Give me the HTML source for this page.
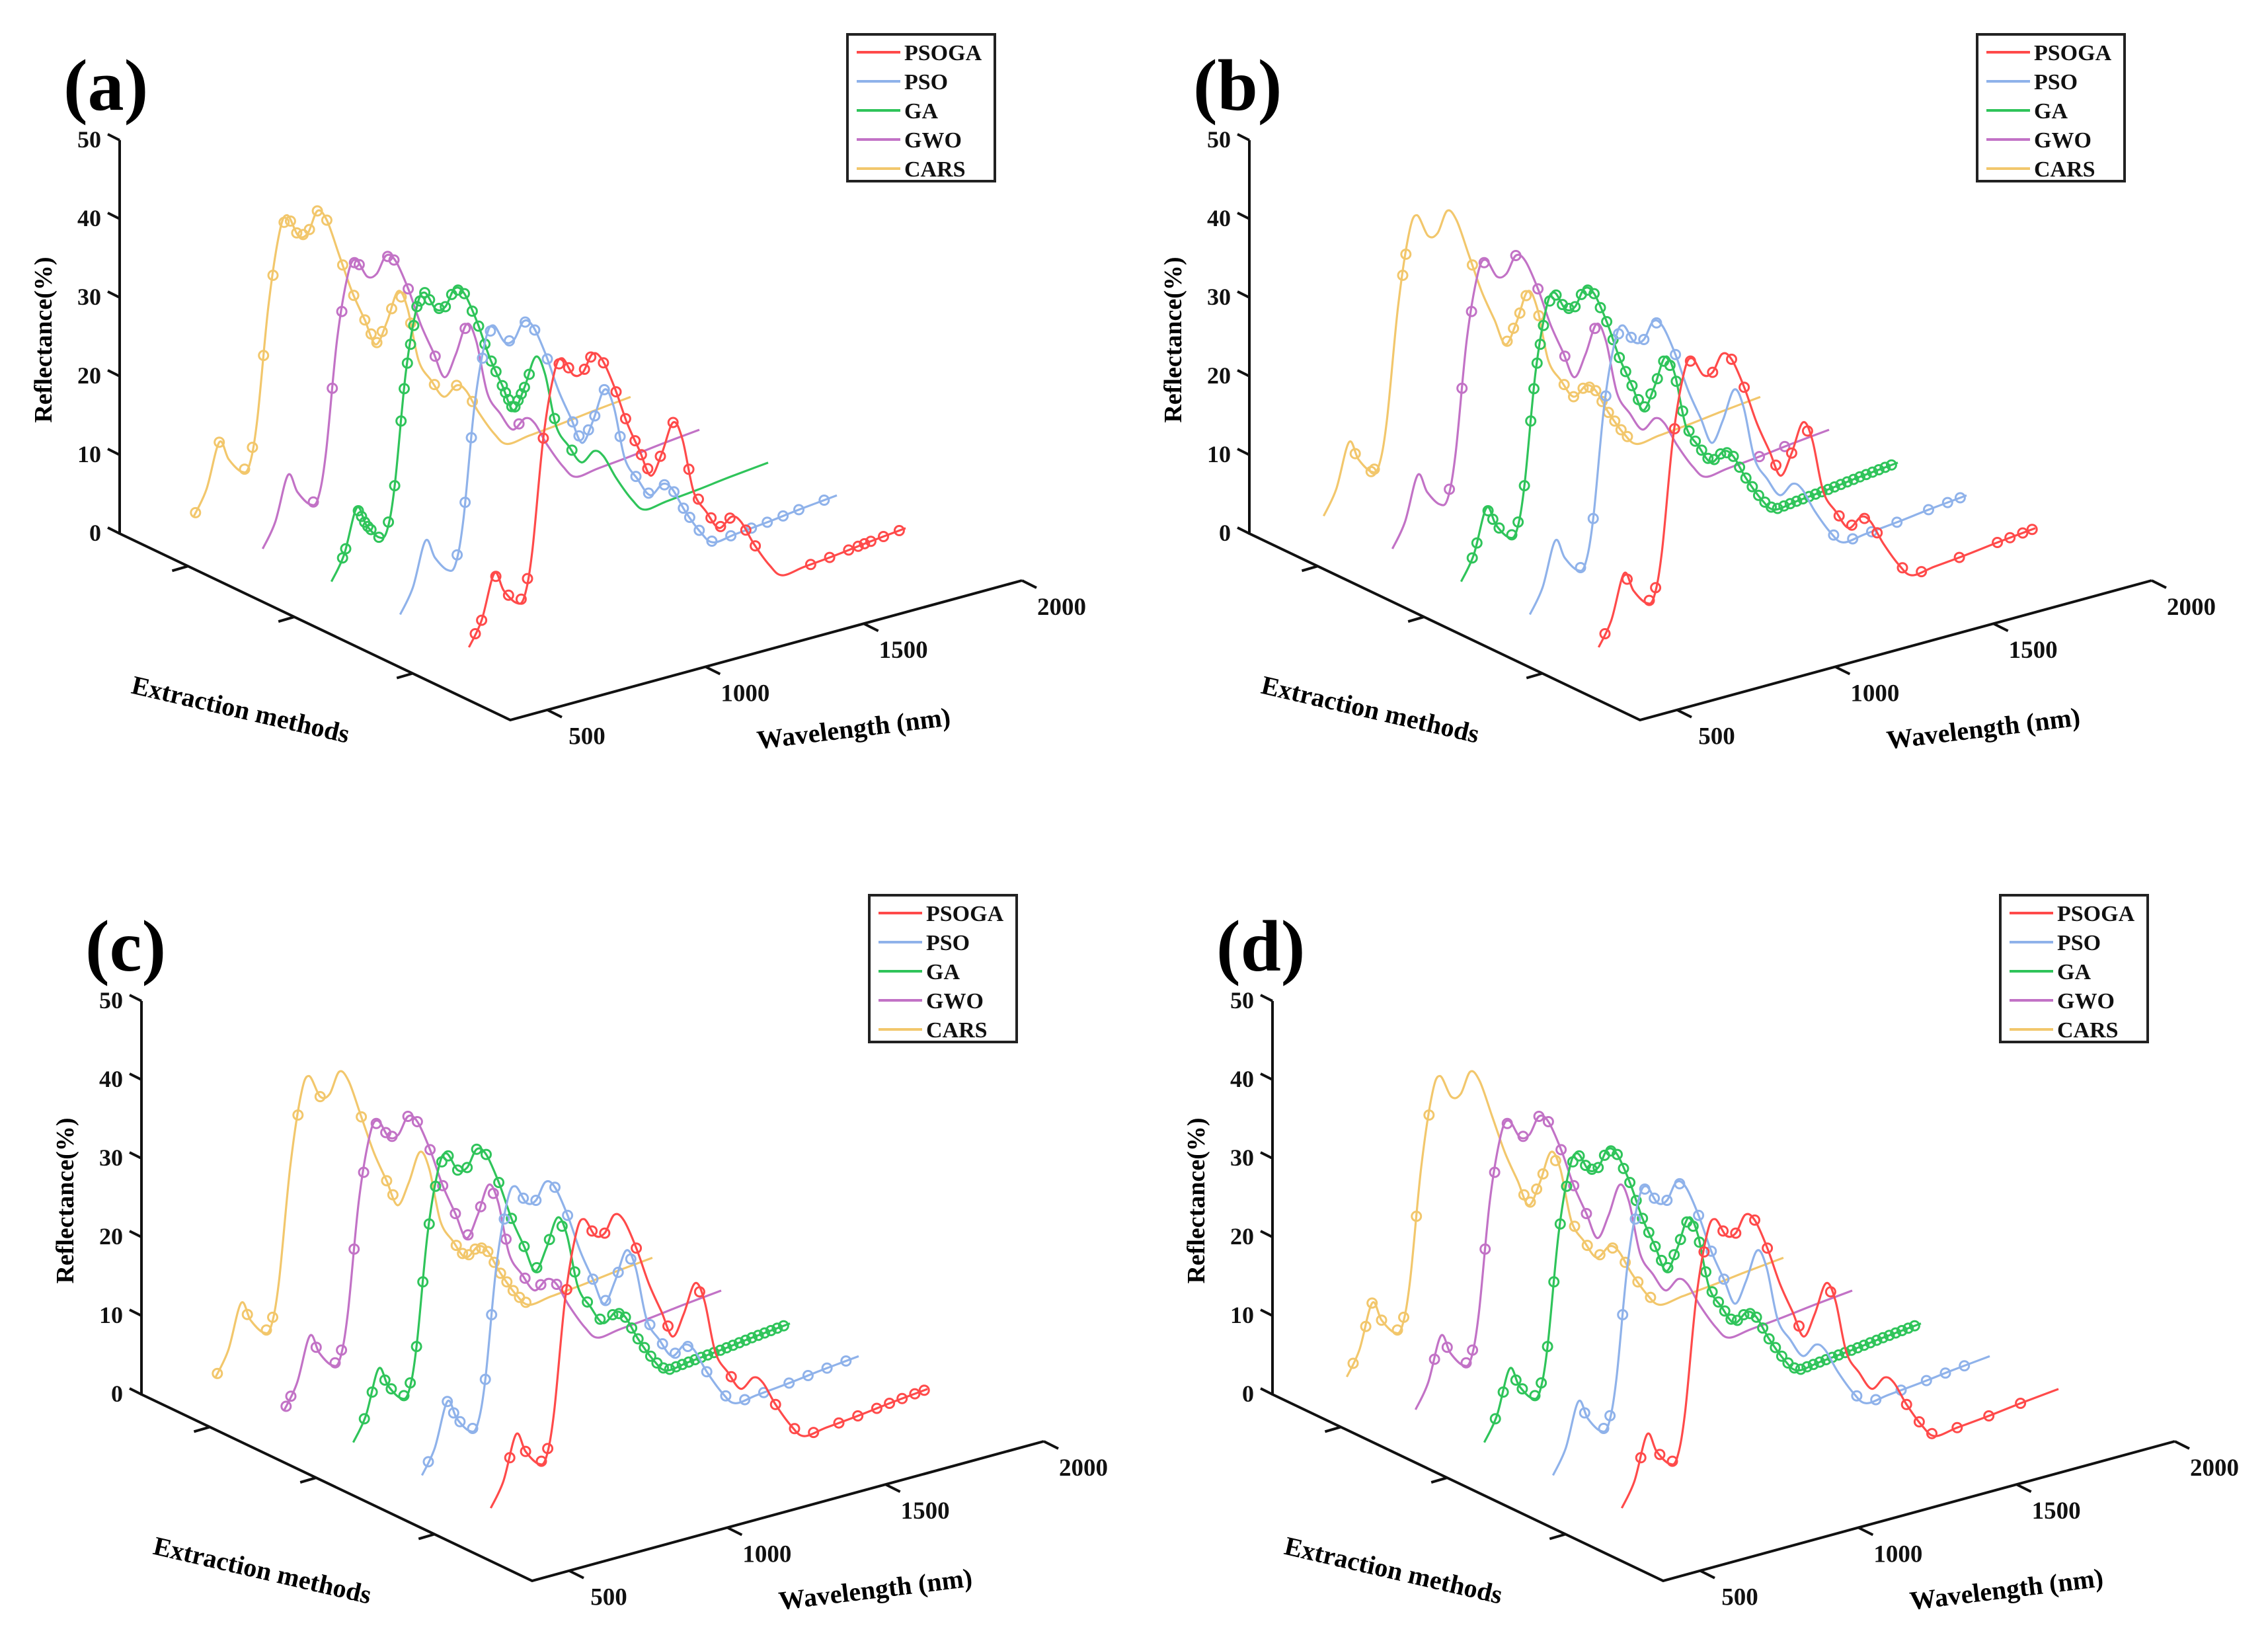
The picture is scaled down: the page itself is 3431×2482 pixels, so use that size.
<!DOCTYPE html>
<html><head><meta charset="utf-8">
<style>
html,body{margin:0;padding:0;background:#fff;}
svg{display:block;font-family:"Liberation Serif",serif;font-weight:bold;}
</style></head>
<body>
<svg id="fig" width="3431" height="2482" viewBox="0 0 3431 2482" xmlns="http://www.w3.org/2000/svg"></svg>
<script>
// ---- data ----
const methods = ["CARS","GWO","GA","PSO","PSOGA"];
const legendOrder = ["PSOGA","PSO","GA","GWO","CARS"];
const panelLabels = ["(a)","(b)","(c)","(d)"];
const zTicks = [0,10,20,30,40,50];
const wlTicks = [500,1000,1500,2000];
const wavelengths = [540,580,620,650,690,715,740,775,810,835,870,900,930,960,1000,1040,1080,1115,1150,1185,1215,1250,1290,1330,1370,1400,1440,1490,1530,1600,1700,1800,1920];
const reflCARS  = [2,5,10.5,8,6,6.5,12,26,35,37,34,34,36.5,35,30,25,21,17.5,20,23.5,21,14,11,8.5,9.5,8.5,5.3,2,0.3,0.6,1,1.5,2];
const reflGWO   = [2,5,10.5,8,6,6.5,12,26,34,35.5,33,33,35,34,30,25,21,17.5,20,23.5,21,14,11,8.5,9.5,8.5,5.3,2,0.3,0.6,1,1.5,2];
const reflGA    = [2,5,10.5,8,6,6.5,12,26,34,35.5,33,33,35,34,30,25,21,17.5,20,23.5,21,14,11,8.5,9.5,8.5,5.3,2,0.3,0.6,1,1.5,2];
const reflPSO   = [2,5,10.5,8,6,6.5,12,26,34,35.5,33,33,35,34,30,25,21,17.5,20,23.5,21,14,11,8.5,9.5,8.5,5.3,2,0.3,0.6,1,1.5,2];
const reflPSOGA = [2,5,10.5,8,6,6.5,12,26,34,35.5,33,33,35,34,30,25,21,17.5,20,23.5,21,14,11,8.5,9.5,8.5,5.3,2,0.3,0.6,1,1.5,2];
// selected wavelengths (markers) per panel, per method
const selA_CARS  = [545,620,700,725,760,790,825,845,865,885,905,930,960,1010,1045,1080,1100,1118,1135,1165,1195,1225,1300,1370,1420];
const selA_GWO   = [700,760,790,830,845,935,955,1000,1085,1180,1350];
const selA_GA    = [575,585,625,635,645,655,665,690,720,740,760,770,780,790,800,810,820,835,850,880,900,920,940,960,985,1005,1025,1045,1060,1080,1090,1100,1110,1120,1130,1140,1150,1165,1245,1300];
const selA_PSO   = [720,745,765,800,825,885,935,965,1005,1085,1105,1135,1155,1185,1235,1285,1325,1375,1405,1435,1455,1485,1525,1585,1650,1700,1750,1800,1880];
const selA_PSOGA = [560,580,625,665,705,725,775,825,855,905,925,965,1005,1035,1065,1085,1105,1145,1185,1235,1265,1305,1335,1365,1415,1445,1620,1680,1740,1770,1790,1810,1850,1900];
const selB_CARS  = [640,690,700,790,800,1010,1120,1140,1160,1180,1220,1300,1330,1360,1380,1400,1420,1440,1460,1480,1500];
const selB_GWO   = [720,760,790,830,930,1000,1085,1180,1700,1780];
const selB_GA    = [575,590,625,640,660,700,720,740,760,770,780,790,800,820,840,860,880,900,920,940,960,980,1000,1020,1040,1060,1080,1100,1120,1140,1160,1180,1200,1220,1240,1260,1280,1300,1320,1340,1360,1380,1400,1420,1440,1460,1480,1500,1520,1540,1560,1580,1600,1620,1640,1660,1680,1700,1720,1740,1760,1780,1800,1820,1840,1860,1880,1900];
const selB_PSO   = [700,740,780,820,860,900,940,1000,1500,1560,1620,1700,1800,1860,1900];
const selB_PSOGA = [560,630,700,720,780,830,900,960,1000,1100,1150,1200,1300,1340,1380,1420,1500,1560,1680,1800,1840,1880,1910];
const selC_CARS  = [545,640,700,720,800,870,1000,1080,1100,1300,1320,1340,1360,1380,1400,1420,1440,1460,1480,1500,1520];
const selC_GWO   = [545,560,640,700,720,760,790,830,860,880,930,960,1000,1040,1080,1120,1160,1200,1240,1300,1350,1400];
const selC_GA    = [575,600,640,660,700,720,740,760,780,800,820,840,870,900,930,960,1000,1040,1080,1120,1160,1200,1240,1280,1320,1360,1380,1400,1420,1440,1460,1480,1500,1520,1540,1560,1580,1600,1620,1640,1660,1680,1700,1720,1740,1760,1780,1800,1820,1840,1860,1880,1900];
const selC_PSO   = [560,620,640,660,700,740,760,800,860,900,960,1000,1080,1120,1160,1200,1260,1300,1340,1380,1440,1500,1560,1620,1700,1760,1820,1880];
const selC_PSOGA = [600,650,700,720,780,860,900,1000,1100,1200,1300,1440,1500,1560,1640,1700,1760,1800,1840,1880,1910];
const selD_CARS  = [560,600,620,650,700,720,760,800,1100,1120,1140,1160,1200,1260,1300,1340,1380,1420,1460,1500];
const selD_GWO   = [600,640,700,720,760,790,830,880,930,960,1000,1040,1080];
const selD_GA    = [575,600,640,660,700,720,740,760,780,800,820,840,860,880,900,920,940,960,980,1000,1020,1040,1060,1080,1100,1120,1140,1160,1180,1200,1220,1240,1260,1280,1300,1320,1340,1360,1380,1400,1420,1440,1460,1480,1500,1520,1540,1560,1580,1600,1620,1640,1660,1680,1700,1720,1740,1760,1780,1800,1820,1840,1860,1880,1900];
const selD_PSO   = [640,700,720,760,800,830,860,900,940,1000,1040,1080,1500,1560,1640,1720,1780,1840];
const selD_PSOGA = [600,660,700,800,860,900,960,1000,1100,1200,1440,1480,1520,1600,1700,1800];

const reflByMethod = [reflCARS,reflGWO,reflGA,reflPSO,reflPSOGA];
const selPanels = [
  [selA_CARS,selA_GWO,selA_GA,selA_PSO,selA_PSOGA],
  [selB_CARS,selB_GWO,selB_GA,selB_PSO,selB_PSOGA],
  [selC_CARS,selC_GWO,selC_GA,selC_PSO,selC_PSOGA],
  [selD_CARS,selD_GWO,selD_GA,selD_PSO,selD_PSOGA]
];

// ---- styling / geometry ----
const colors = {PSOGA:"#ff4a4a",PSO:"#8fb2ea",GA:"#2fc45a",GWO:"#c272c6",CARS:"#f2c76c"};
const panelOffsets = [[0,0],[1709,0],[33,1302],[1744,1302]];
const O = [181,807];
const M = [591,282];
const W = [774,-211];
const ZU = 11.9;
const W0 = 383, W1 = 2000;
const S0 = 0.063, SSTEP = 0.176;
const methodTickFr = [0.175,0.447,0.75];

const NS = "http://www.w3.org/2000/svg";
const svg = document.getElementById("fig");
function mk(tag, attrs, parent){
  const e = document.createElementNS(NS, tag);
  for (const k in attrs) e.setAttribute(k, attrs[k]);
  (parent||svg).appendChild(e);
  return e;
}
function proj(s, w, z){
  const d = (w - W0)/(W1 - W0);
  return [O[0] + s*M[0] + d*W[0], O[1] + s*M[1] + d*W[1] - z*ZU];
}
function interp(ws, vs, w){
  if (w <= ws[0]) return vs[0];
  for (let i=1;i<ws.length;i++){
    if (w <= ws[i]){ const t=(w-ws[i-1])/(ws[i]-ws[i-1]); return vs[i-1]+t*(vs[i]-vs[i-1]); }
  }
  return vs[vs.length-1];
}
function smoothPath(pts){
  let d = "M"+pts[0][0].toFixed(1)+","+pts[0][1].toFixed(1);
  for (let i=0;i<pts.length-1;i++){
    const p0=pts[Math.max(0,i-1)], p1=pts[i], p2=pts[i+1], p3=pts[Math.min(pts.length-1,i+2)];
    const c1=[p1[0]+(p2[0]-p0[0])/6, p1[1]+(p2[1]-p0[1])/6];
    const c2=[p2[0]-(p3[0]-p1[0])/6, p2[1]-(p3[1]-p1[1])/6];
    d += " C"+c1[0].toFixed(1)+","+c1[1].toFixed(1)+" "+c2[0].toFixed(1)+","+c2[1].toFixed(1)+" "+p2[0].toFixed(1)+","+p2[1].toFixed(1);
  }
  return d;
}

panelOffsets.forEach((off, pi) => {
  const g = mk("g", {transform:"translate("+off[0]+","+off[1]+")"});
  
  

  const lab = mk("text", {x:96, y:166, "font-size":110}, g);
  lab.textContent = panelLabels[pi];
  
  

  // axes
  const ax = mk("g", {stroke:"#111", "stroke-width":4, fill:"none"}, g);
  
  
  const top = proj(0, W0, 50), corner = proj(1, W0, 0), end = proj(1, W1, 0);
  mk("polyline", {points: top[0]+","+top[1]+" "+O[0]+","+O[1]+" "+corner[0]+","+corner[1]+" "+end[0]+","+end[1]}, ax);
  zTicks.forEach(z => {
    const p = proj(0, W0, z);
    mk("line", {x1:p[0], y1:p[1], x2:p[0]-18, y2:p[1]-9}, ax);
    const t = mk("text", {x:p[0]-28, y:p[1]+11, "font-size":36, "text-anchor":"end", fill:"#111"}, g);
    t.textContent = z;
    
    
  });
  methodTickFr.forEach(f => {
    const p = proj(f, W0, 0);
    mk("line", {x1:p[0], y1:p[1], x2:p[0]-24, y2:p[1]+7}, ax);
  });
  wlTicks.forEach(w => {
    const p = proj(1, w, 0);
    mk("line", {x1:p[0], y1:p[1], x2:p[0]+22, y2:p[1]+11}, ax);
    const t = mk("text", {x:p[0]+60, y:p[1]+52, "font-size":37, "text-anchor":"middle", fill:"#111"}, g);
    t.textContent = w;
    
    
  });
  let t = mk("text", {x:0, y:0, "font-size":38, "text-anchor":"middle", transform:"translate(78,514) rotate(-90)"}, g);
  t.textContent = "Reflectance(%)";
  
  
  t = mk("text", {x:0, y:0, "font-size":40, "text-anchor":"middle", transform:"translate(361,1086) rotate(13)"}, g);
  t.textContent = "Extraction methods";
  
  
  t = mk("text", {x:0, y:0, "font-size":40, "text-anchor":"middle", transform:"translate(1293,1115) rotate(-7)"}, g);
  t.textContent = "Wavelength (nm)";
  
  

  methods.forEach((m, mi) => {
    const s = S0 + SSTEP*mi;
    const refl = reflByMethod[mi];
    const sg = mk("g", {stroke:colors[m], fill:"none"}, g);
    
    
    const pts = wavelengths.map((w, i) => proj(s, w, refl[i]));
    const path = mk("path", {d: smoothPath(pts), "stroke-width":3.2}, sg);
    
    
    selPanels[pi][mi].forEach(w => {
      const p = proj(s, w, interp(wavelengths, refl, w));
      const c = mk("circle", {cx:p[0].toFixed(1), cy:p[1].toFixed(1), r:7, "stroke-width":3}, sg);
      
      
    });
  });

  const lg = mk("g", {}, g);
  
  
  mk("rect", {x:1282, y:52, width:223, height:222, fill:"#fff", stroke:"#222", "stroke-width":4}, lg);
  legendOrder.forEach((m, i) => {
    const y = 79 + i*44;
    const e = mk("g", {}, lg);
    
    
    mk("line", {x1:1296, y1:y, x2:1362, y2:y, stroke:colors[m], "stroke-width":4}, e);
    const tt = mk("text", {x:1368, y:y+12, "font-size":34, fill:"#111"}, e);
    tt.textContent = m;
  });
});
</script>
</body></html>
